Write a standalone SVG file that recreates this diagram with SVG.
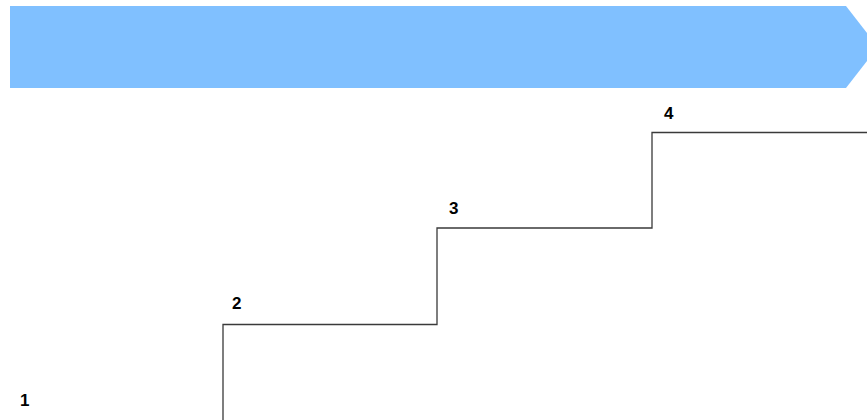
<svg xmlns="http://www.w3.org/2000/svg" width="867" height="420" viewBox="0 0 867 420">
<style>
.lbl{font-family:"Liberation Sans",Arial,sans-serif;font-weight:bold;font-size:17px;fill:#000}
.step{stroke:#3a3a3a;stroke-width:1.3;fill:none}
</style>
<rect width="867" height="420" fill="#fff"/>
<g id="banner"><polygon points="10,6 846,6 878,47 846,88 10,88" fill="#80C0FF"/></g>
<g id="connectors">
<polyline class="step" points="223,420 223,324.5 437,324.5 437,228 652,228 652,132.5 867,132.5"/>
</g>
<g id="label1"><text class="lbl" x="20" y="406">1</text></g>
<g id="label2"><text class="lbl" x="232" y="309">2</text></g>
<g id="label3"><text class="lbl" x="449" y="214">3</text></g>
<g id="label4"><text class="lbl" x="664" y="119">4</text></g>
</svg>
